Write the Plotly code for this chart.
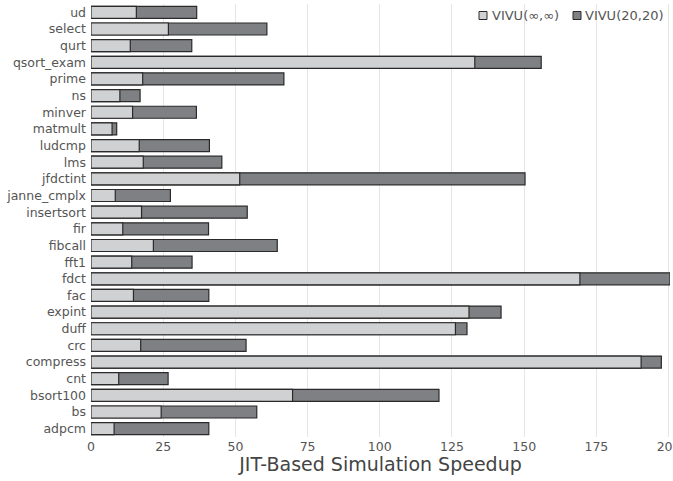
import plotly.graph_objects as go

categories = ["adpcm", "bs", "bsort100", "cnt", "compress", "crc", "duff", "expint",
              "fac", "fdct", "fft1", "fibcall", "fir", "insertsort", "janne_cmplx",
              "jfdctint", "lms", "ludcmp", "matmult", "minver", "ns", "prime",
              "qsort_exam", "qurt", "select", "ud"]

vivu_inf = [8.0, 24.3, 69.8, 9.6, 190.5, 17.2, 126.2, 130.9,
            14.7, 169.3, 14.1, 21.6, 11.0, 17.5, 8.4,
            51.5, 18.1, 16.7, 7.3, 14.4, 10.0, 17.9,
            132.9, 13.6, 26.8, 15.7]

vivu_20 = [40.8, 57.4, 120.5, 26.7, 197.5, 53.7, 130.2, 142.0,
           40.8, 200.5, 35.0, 64.5, 40.7, 54.1, 27.5,
           150.3, 45.3, 41.0, 8.9, 36.5, 17.0, 66.8,
           155.9, 34.9, 60.9, 36.6]

x_ticks = [0, 25, 50, 75, 100, 125, 150, 175, 200]

series_names = ["VIVU(∞,∞)", "VIVU(20,20)"]
series_colors = ["#d0d1d3", "#7f8084"]
edge = "#2a2a2a"

W, H = 673, 481
L, R, T, B = 91, 3, 4, 44

fig = go.Figure()
fig.add_trace(go.Bar(
    y=categories, x=vivu_20, orientation="h", name=series_names[1],
    marker=dict(color=series_colors[1], line=dict(color=edge, width=1.2)),
    width=0.72, showlegend=False,
))
fig.add_trace(go.Bar(
    y=categories, x=vivu_inf, orientation="h", name=series_names[0],
    marker=dict(color=series_colors[0], line=dict(color=edge, width=1.2)),
    width=0.72, showlegend=False,
))

# manual compact legend (symbol square + text), in pixel-derived paper coords
pw, ph = W - L - R, H - T - B
def px(xp):
    return (xp - L) / pw
def py(yp):
    return 1 - (yp - T) / ph

legend_items = [(479, 490), (573, 583)]
for (sx, tx), name, col in zip(legend_items, series_names, series_colors):
    fig.add_shape(type="rect", xref="paper", yref="paper",
                  x0=px(sx), x1=px(sx + 8), y0=py(19.5), y1=py(11.5),
                  fillcolor=col, line=dict(color=edge, width=1))
    fig.add_annotation(xref="paper", yref="paper", x=px(tx), y=py(15.5),
                       text=name, showarrow=False, xanchor="left", yanchor="middle",
                       font=dict(size=13, color="#555555"))

fig.update_layout(
    width=W, height=H,
    barmode="overlay",
    plot_bgcolor="white", paper_bgcolor="white",
    margin=dict(l=L, r=R, t=T, b=B),
    font=dict(family="DejaVu Sans", color="#555555", size=12),
    showlegend=False,
    xaxis=dict(range=[0, 200.5], tickvals=x_ticks, showgrid=True,
               gridcolor="#e6e6e6", gridwidth=1, zeroline=False,
               showline=False, ticks="", tickfont=dict(size=12.5, color="#555555"),
               automargin=False, ticklabeloverflow="allow",
               title=dict(text="JIT-Based Simulation Speedup",
                          font=dict(size=19, color="#444444"), standoff=3)),
    yaxis=dict(categoryorder="array", categoryarray=categories,
               range=[-0.5, 25.5], showgrid=False, zeroline=False,
               showline=False, ticks="", ticklabelstandoff=4, automargin=False,
               tickfont=dict(size=12.5, color="#555555")),
)

fig.write_html("out.html",
               config={"displayModeBar": False},
               post_script="document.body.style.margin='0';"
                           "document.body.style.overflow='hidden';")
